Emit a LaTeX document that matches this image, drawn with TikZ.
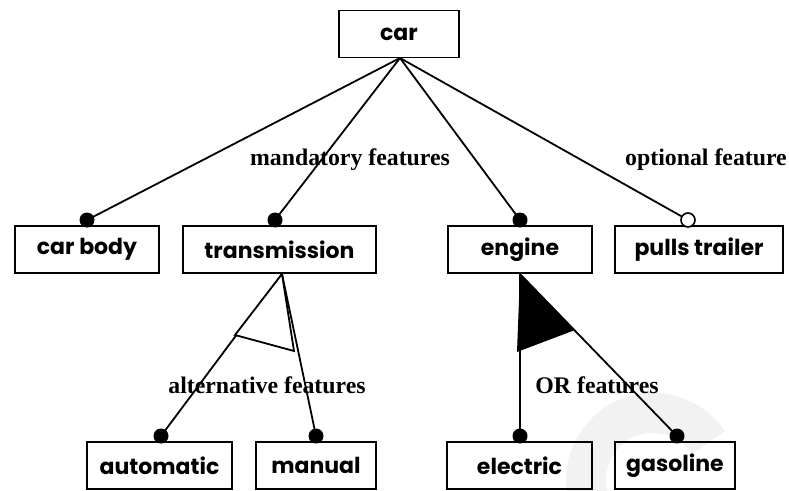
\documentclass[tikz,border=0pt]{standalone}
\usepackage{fontspec}
\setmainfont{Liberation Serif}
\newfontfamily\boxfont{Poppins}
\begin{document}
\begin{tikzpicture}[x=1pt,y=-1pt,
  feat/.style={draw,line width=1.8pt,inner sep=0pt,minimum height=47pt,
    font=\boxfont\bfseries\fontsize{22}{24}\selectfont},
  conn/.style={line width=1.8pt},
  fulldot/.style={circle,fill=black,inner sep=0pt,minimum size=15pt},
  opendot/.style={circle,draw,fill=white,line width=1.6pt,inner sep=0pt,minimum size=14pt},
  lab/.style={font=\bfseries\fontsize{23.8}{26}\selectfont,inner sep=0pt}]
\useasboundingbox (0,0) rectangle (789,490);
% watermark
\begin{scope}
\clip (0,0) rectangle (789,490);
\draw[black!5,line width=40pt] (653,480) ++(-34:67) arc (-34:-200:67);
\end{scope}
% boxes
\node[feat,minimum width=120pt] (car) at (399,34) {car};
\node[feat,minimum width=144pt] (body) at (87,249.5) {car body};
\node[feat,minimum width=193pt] (trans) at (279.5,249.5) {transmission};
\node[feat,minimum width=144pt] (engine) at (520,249.5) {engine};
\node[feat,minimum width=168pt] (trailer) at (699,249.5) {pulls trailer};
\node[feat,minimum width=145pt] (auto) at (159.5,465.5) {automatic};
\node[feat,minimum width=120pt] (manual) at (316,465.5) {manual};
\node[feat,minimum width=145pt] (electric) at (519.5,465.5) {electric};
\node[feat,minimum width=120pt] (gas) at (675,465.5) {gasoline};
% anchor points
\coordinate (ctop) at (400,58);
\coordinate (ttop) at (282,274);
\coordinate (etop) at (520,274);
\coordinate (pbody) at (87,220);
\coordinate (ptrans) at (275,220);
\coordinate (pengine) at (520,220);
\coordinate (ptrailer) at (688,220);
\coordinate (pauto) at (161,436);
\coordinate (pmanual) at (316,436);
\coordinate (pelec) at (520,436);
\coordinate (pgas) at (677,436);
% connectors
\draw[conn] (ctop) -- (pbody);
\draw[conn] (ctop) -- (ptrans);
\draw[conn] (ctop) -- (pengine);
\draw[conn] (ctop) -- (ptrailer);
\draw[conn] (ttop) -- (pauto);
\draw[conn] (ttop) -- (pmanual);
\draw[conn] (etop) -- (pelec);
\draw[conn] (etop) -- (pgas);
% group triangles
\draw[conn,fill=white] (ttop) -- (235,335) -- (294,351) -- cycle;
\fill (etop) -- (517,352) -- (575,330) -- cycle;
% dots
\node[fulldot] (dbody) at (pbody) {};
\node[fulldot] (dtrans) at (ptrans) {};
\node[fulldot] (dengine) at (pengine) {};
\node[opendot] (dtrailer) at (ptrailer) {};
\node[fulldot] (dauto) at (pauto) {};
\node[fulldot] (dmanual) at (pmanual) {};
\node[fulldot] (delec) at (pelec) {};
\node[fulldot] (dgas) at (pgas) {};
% labels
\node[lab] (lmand) at (350,160) {mandatory features};
\node[lab] (lopt) at (706,160) {optional feature};
\node[lab] (lalt) at (267,385) {alternative features};
\node[lab] (lor) at (597,385) {OR features};
\end{tikzpicture}
\end{document}
